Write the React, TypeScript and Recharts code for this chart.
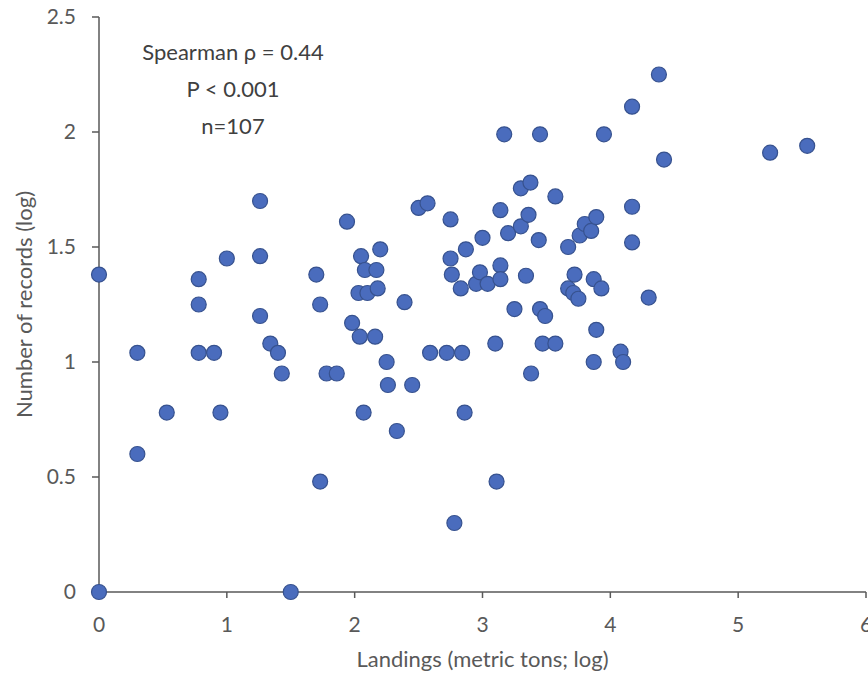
import { ScatterChart, Scatter, XAxis, YAxis } from 'recharts';

// Landings (metric tons; log) for each species
const landings = [
  0, 0, 0.3, 0.3, 0.53, 0.78, 0.78, 0.78, 0.9, 0.95,
  1.0, 1.26, 1.26, 1.26, 1.34, 1.4, 1.43, 1.5, 1.7, 1.73,
  1.73, 1.78, 1.86, 1.94, 1.98, 2.04, 2.05, 2.03, 2.08, 2.1,
  2.07, 2.17, 2.18, 2.16, 2.2, 2.25, 2.26, 2.33, 2.39, 2.45,
  2.5, 2.57, 2.59, 2.72, 2.84, 2.75, 2.75, 2.76, 2.83, 2.87,
  2.86, 2.78, 2.95, 2.98, 3.0, 3.04, 3.1, 3.11, 3.14, 3.14,
  3.14, 3.17, 3.2, 3.25, 3.3, 3.3, 3.34, 3.36, 3.375, 3.38,
  3.44, 3.45, 3.45, 3.49, 3.47, 3.57, 3.57, 3.67, 3.67, 3.71,
  3.72, 3.75, 3.76, 3.8, 3.85, 3.87, 3.89, 3.93, 3.89, 3.87,
  3.95, 4.08, 4.1, 4.17, 4.17, 4.17, 4.3, 4.38, 4.42, 5.25,
  5.54,
];

// Number of records (log), same order as landings
const records = [
  1.38, 0, 1.04, 0.6, 0.78, 1.36, 1.25, 1.04, 1.04, 0.78,
  1.45, 1.7, 1.46, 1.2, 1.08, 1.04, 0.95, 0, 1.38, 1.25,
  0.48, 0.95, 0.95, 1.61, 1.17, 1.11, 1.46, 1.3, 1.4, 1.3,
  0.78, 1.4, 1.32, 1.11, 1.49, 1.0, 0.9, 0.7, 1.26, 0.9,
  1.67, 1.69, 1.04, 1.04, 1.04, 1.62, 1.45, 1.38, 1.32, 1.49,
  0.78, 0.3, 1.34, 1.39, 1.54, 1.34, 1.08, 0.48, 1.66, 1.42,
  1.36, 1.99, 1.56, 1.23, 1.59, 1.755, 1.375, 1.64, 1.78, 0.95,
  1.53, 1.99, 1.23, 1.2, 1.08, 1.08, 1.72, 1.5, 1.32, 1.3,
  1.38, 1.275, 1.55, 1.6, 1.57, 1.36, 1.63, 1.32, 1.14, 1.0,
  1.99, 1.045, 1.0, 2.11, 1.675, 1.52, 1.28, 2.25, 1.88, 1.91,
  1.94,
];

const xTicks = [0, 1, 2, 3, 4, 5, 6];
const yTicks = [0, 0.5, 1, 1.5, 2, 2.5];
const statLines = ['Spearman ρ = 0.44', 'P < 0.001', 'n=107'];

const data = landings.map((x, i) => ({ x, y: records[i] }));

const FONT = 'Lato, "Open Sans", sans-serif';
const GREY = '#595959';

const Dot = (props: any) => (
  <circle cx={props.cx} cy={props.cy} r={7.5} fill="#4A6CBD" stroke="#37528F" strokeWidth={1.2} />
);

export default function App() {
  return (
    <div style={{ position: 'absolute', left: 0, top: 0, width: 868, height: 675, background: '#fff', fontFamily: FONT }}>
      <ScatterChart width={868} height={675} margin={{ top: 17, right: 2, bottom: 0, left: 0 }}>
        <XAxis
          type="number"
          dataKey="x"
          domain={[0, 6]}
          ticks={xTicks}
          interval={0}
          stroke={GREY}
          strokeWidth={1.5}
          tickSize={6}
          tickMargin={19}
          height={83}
          tick={{ fill: GREY, fontSize: 21, fontFamily: FONT }}
          label={{ value: 'Landings (metric tons; log)', position: 'insideBottom', offset: 8, fill: GREY, fontSize: 22, fontFamily: FONT }}
        />
        <YAxis
          type="number"
          dataKey="y"
          domain={[0, 2.5]}
          ticks={yTicks}
          interval={0}
          stroke={GREY}
          strokeWidth={1.5}
          tickSize={7}
          tickMargin={16}
          width={99}
          tick={{ fill: GREY, fontSize: 21, fontFamily: FONT }}
          label={{ value: 'Number of records (log)', angle: -90, position: 'insideLeft', offset: 24, fill: GREY, fontSize: 22, fontFamily: FONT, style: { textAnchor: 'middle' } }}
        />
        <Scatter data={data} shape={Dot} isAnimationActive={false} />
      </ScatterChart>
      <div style={{ position: 'absolute', left: 133, top: 33, width: 200, textAlign: 'center', color: '#404040', fontSize: 22, lineHeight: '37px' }}>
        {statLines.map((s) => (
          <div key={s}>{s}</div>
        ))}
      </div>
    </div>
  );
}
